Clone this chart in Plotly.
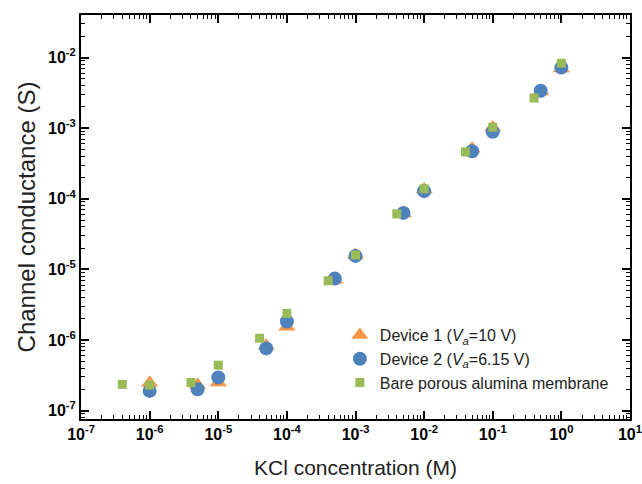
import plotly.graph_objects as go
import numpy as np

# Device 1 (triangles)
d1_x = [1e-6, 5e-6, 1e-5, 5e-5, 1e-4, 5e-4, 1e-3, 5e-3, 1e-2, 5e-2, 1e-1, 5e-1, 1.0]
d1_y = [2.45e-7, 2.3e-7, 2.5e-7, 8.3e-7, 1.54e-6, 7.1e-6, 1.6e-5, 6.2e-5, 1.35e-4, 5.1e-4, 1.02e-3, 3.3e-3, 7.0e-3]
# Device 2 (circles)
d2_x = [1e-6, 5e-6, 1e-5, 5e-5, 1e-4, 5e-4, 1e-3, 5e-3, 1e-2, 5e-2, 1e-1, 5e-1, 1.0]
d2_y = [1.9e-7, 2.0e-7, 2.95e-7, 7.6e-7, 1.83e-6, 7.4e-6, 1.55e-5, 6.3e-5, 1.28e-4, 4.7e-4, 8.9e-4, 3.39e-3, 7.2e-3]
# Bare porous alumina membrane (squares)
b_x = [4e-7, 1e-6, 4e-6, 1e-5, 4e-5, 1e-4, 4e-4, 1e-3, 4e-3, 1e-2, 4e-2, 1e-1, 4e-1, 1.0]
b_y = [2.35e-7, 2.3e-7, 2.5e-7, 4.4e-7, 1.06e-6, 2.38e-6, 6.9e-6, 1.6e-5, 6.1e-5, 1.38e-4, 4.6e-4, 1.03e-3, 2.67e-3, 8.3e-3]

x_tickvals = [1e-7, 1e-6, 1e-5, 1e-4, 1e-3, 1e-2, 1e-1, 1e0, 1e1]
x_ticktext = ["10<sup>-7</sup>", "10<sup>-6</sup>", "10<sup>-5</sup>", "10<sup>-4</sup>", "10<sup>-3</sup>",
              "10<sup>-2</sup>", "10<sup>-1</sup>", "10<sup>0</sup>", "10<sup>1</sup>"]
y_tickvals = [1e-7, 1e-6, 1e-5, 1e-4, 1e-3, 1e-2]
y_ticktext = ["10<sup>-7</sup>", "10<sup>-6</sup>", "10<sup>-5</sup>", "10<sup>-4</sup>", "10<sup>-3</sup>",
              "10<sup>-2</sup>"]

X_RANGE = [-7.0005, 1.0005]
Y_RANGE = [np.log10(7.6e-8), np.log10(0.04)]

# minor tick positions (2..9 within each decade)
x_minor = [m * 10.0 ** e for e in range(-7, 1) for m in range(2, 10)]
y_minor = [m * 10.0 ** e for e in range(-8, -1) for m in range(2, 10)
           if Y_RANGE[0] <= np.log10(m * 10.0 ** e) <= Y_RANGE[1]]

FONT = "Arial, Liberation Sans, sans-serif"

fig = go.Figure()
fig.add_trace(go.Scatter(x=d1_x, y=d1_y, mode="markers", name="Device 1 (<i>V<sub>a</sub></i>=10 V)",
                         marker=dict(symbol="triangle-up", size=15, color="#F79646")))
fig.add_trace(go.Scatter(x=d2_x, y=d2_y, mode="markers", name="Device 2 (<i>V<sub>a</sub></i>=6.15 V)",
                         marker=dict(symbol="circle", size=14, color="#4F81BD")))
fig.add_trace(go.Scatter(x=b_x, y=b_y, mode="markers", name="Bare porous alumina membrane",
                         marker=dict(symbol="square", size=9, color="#9BBB59")))
# invisible trace to activate the minor-tick overlay axes
fig.add_trace(go.Scatter(x=[1e-3], y=[1e-4], xaxis="x2", yaxis="y2", mode="markers",
                         marker=dict(opacity=0), showlegend=False, hoverinfo="skip"))

tickfont = dict(family=FONT, size=16, color="black", weight="bold")

fig.update_layout(
    width=642, height=484,
    margin=dict(l=81, r=12, t=15, b=65),
    paper_bgcolor="white", plot_bgcolor="white",
    font=dict(family=FONT, color="#222"),
    xaxis=dict(type="log", range=X_RANGE, automargin=False, showgrid=False, zeroline=False,
               showline=True, linecolor="black", linewidth=2, mirror="ticks",
               ticks="inside", ticklen=8, tickwidth=1.5, tickcolor="black",
               tickmode="array", tickvals=x_tickvals, ticktext=x_ticktext, tickfont=tickfont,
               ticklabeloverflow="allow",
               title=dict(text="KCl concentration (M)", font=dict(family=FONT, size=21, color="#222"), standoff=18)),
    yaxis=dict(type="log", range=Y_RANGE, automargin=False, showgrid=False, zeroline=False,
               showline=True, linecolor="black", linewidth=2, mirror="ticks",
               ticks="inside", ticklen=8, tickwidth=1.5, tickcolor="black",
               tickmode="array", tickvals=y_tickvals, ticktext=y_ticktext, tickfont=tickfont,
               ticklabeloverflow="allow",
               title=dict(text="Channel conductance (S)", font=dict(family=FONT, size=24, color="#222"), standoff=6)),
    xaxis2=dict(type="log", range=X_RANGE, overlaying="x", side="bottom", automargin=False,
                showgrid=False, zeroline=False, showline=False, mirror="ticks",
                ticks="inside", ticklen=4, tickwidth=1, tickcolor="black",
                tickmode="array", tickvals=x_minor, showticklabels=False),
    yaxis2=dict(type="log", range=Y_RANGE, overlaying="y", side="left", automargin=False,
                showgrid=False, zeroline=False, showline=False, mirror="ticks",
                ticks="inside", ticklen=4, tickwidth=1, tickcolor="black",
                tickmode="array", tickvals=y_minor, showticklabels=False),
    legend=dict(x=0.4715, y=0.25, xanchor="left", yanchor="top", bgcolor="rgba(0,0,0,0)",
                font=dict(family=FONT, size=16, color="#222"), tracegroupgap=0, itemsizing="trace"),
)

fig.write_html("out.html", config={"displayModeBar": False},
               post_script="document.body.style.margin='0';document.body.style.overflow='hidden';")
